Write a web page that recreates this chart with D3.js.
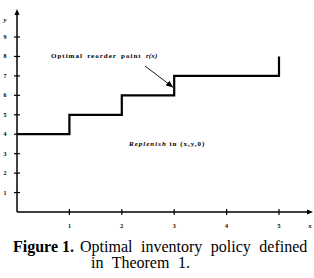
<!DOCTYPE html>
<html>
<head>
<meta charset="utf-8">
<script src="https://cdn.jsdelivr.net/npm/d3@7"></script>
<style>
  body { margin: 0; background: #fff; }
  svg text { font-family: "Liberation Serif", "Times New Roman", serif; }
</style>
</head>
<body>
<div id="chart"></div>
<script>
// step policy r(x): breakpoints on x, level on y
var stepX = [0, 1, 1, 2, 2, 3, 3, 5, 5];
var stepY = [4, 4, 5, 5, 6, 6, 7, 7, 8];
var xTicks = [1, 2, 3, 4, 5];
var yTicks = [1, 2, 3, 4, 5, 6, 7, 8, 9];

var width = 314, height = 278;

var svg = d3.select("#chart").append("svg")
  .attr("width", width)
  .attr("height", height);

var x = d3.scaleLinear().domain([0, 5]).range([17, 279]);
var y = d3.scaleLinear().domain([0, 9]).range([212, 37]);

var axisG = svg.append("g").attr("stroke", "#000");

// y axis line with arrow
axisG.append("line")
  .attr("x1", x(0)).attr("x2", x(0))
  .attr("y1", y(0)).attr("y2", 13)
  .attr("stroke-width", 1.5);
svg.append("path")
  .attr("d", "M" + x(0) + ",9 L" + (x(0) - 2.5) + ",15 L" + (x(0) + 2.5) + ",15 Z")
  .attr("fill", "#000");

// x axis line with arrow
axisG.append("line")
  .attr("x1", x(0)).attr("x2", 309)
  .attr("y1", y(0)).attr("y2", y(0))
  .attr("stroke-width", 1.5);
svg.append("path")
  .attr("d", "M313," + y(0) + " L307," + (y(0) - 2.5) + " L307," + (y(0) + 2.5) + " Z")
  .attr("fill", "#000");

// ticks
svg.selectAll(".ytick").data(yTicks).enter().append("line")
  .attr("x1", x(0) - 3).attr("x2", x(0) + 3)
  .attr("y1", function(d) { return y(d); })
  .attr("y2", function(d) { return y(d); })
  .attr("stroke", "#000").attr("stroke-width", 1.2);
svg.selectAll(".xtick").data(xTicks).enter().append("line")
  .attr("x1", function(d) { return x(d); })
  .attr("x2", function(d) { return x(d); })
  .attr("y1", y(0) - 3).attr("y2", y(0) + 3)
  .attr("stroke", "#000").attr("stroke-width", 1.2);

// tick labels
svg.selectAll(".ylab").data(yTicks).enter().append("text")
  .attr("x", 5).attr("y", function(d) { return y(d) + 2; })
  .attr("font-size", 6).attr("font-weight", "bold")
  .attr("text-anchor", "middle")
  .text(function(d) { return d; });
svg.selectAll(".xlab").data(xTicks).enter().append("text")
  .attr("x", function(d) { return x(d); }).attr("y", 228)
  .attr("font-size", 6).attr("font-weight", "bold")
  .attr("text-anchor", "middle")
  .text(function(d) { return d; });

svg.append("text").attr("x", 5).attr("y", 22)
  .attr("font-size", 7).attr("font-style", "italic").attr("font-weight", "bold")
  .attr("text-anchor", "middle").text("y");
svg.append("text").attr("x", 310).attr("y", 228)
  .attr("font-size", 7).attr("font-style", "italic").attr("font-weight", "bold")
  .attr("text-anchor", "middle").text("x");

// step line
var line = d3.line()
  .x(function(d) { return x(d[0]); })
  .y(function(d) { return y(d[1]); });
svg.append("path")
  .datum(d3.zip(stepX, stepY))
  .attr("d", line)
  .attr("fill", "none")
  .attr("stroke", "#000")
  .attr("stroke-width", 2.2);

// annotation
var ann = svg.append("text").attr("x", 51).attr("y", 58)
  .attr("font-size", 7).attr("font-weight", "bold")
  .attr("letter-spacing", 1.0).attr("word-spacing", 1.5);
ann.append("tspan").text("Optimal reorder point ");
ann.append("tspan").attr("font-style", "italic").attr("letter-spacing", 0.2).text("r(x)");

svg.append("defs").append("marker")
  .attr("id", "ah").attr("viewBox", "0 0 10 10")
  .attr("refX", 9).attr("refY", 5)
  .attr("markerWidth", 8).attr("markerHeight", 8)
  .attr("orient", "auto")
  .append("path").attr("d", "M0,1 L10,5 L0,9 Z").attr("fill", "#000");
svg.append("line")
  .attr("x1", 145).attr("y1", 66)
  .attr("x2", x(3) - 1.5).attr("y2", 87)
  .attr("stroke", "#000").attr("stroke-width", 0.9)
  .attr("marker-end", "url(#ah)");

var rep = svg.append("text").attr("x", 129).attr("y", 146)
  .attr("font-size", 7).attr("font-weight", "bold")
  .attr("letter-spacing", 1.0);
rep.append("tspan").attr("font-style", "italic").text("Replenish");
rep.append("tspan").text(" in (x,y,0)");

// caption
var cap = svg.append("text").attr("x", 13).attr("y", 252)
  .attr("font-size", 16);
cap.append("tspan").attr("font-weight", "bold").text("Figure 1.");
cap.append("tspan").attr("dx", 6).attr("word-spacing", 4.5).text("Optimal inventory policy defined");
svg.append("text").attr("x", 91).attr("y", 268)
  .attr("font-size", 16).attr("word-spacing", 4.5)
  .text("in Theorem 1.");
</script>
</body>
</html>
